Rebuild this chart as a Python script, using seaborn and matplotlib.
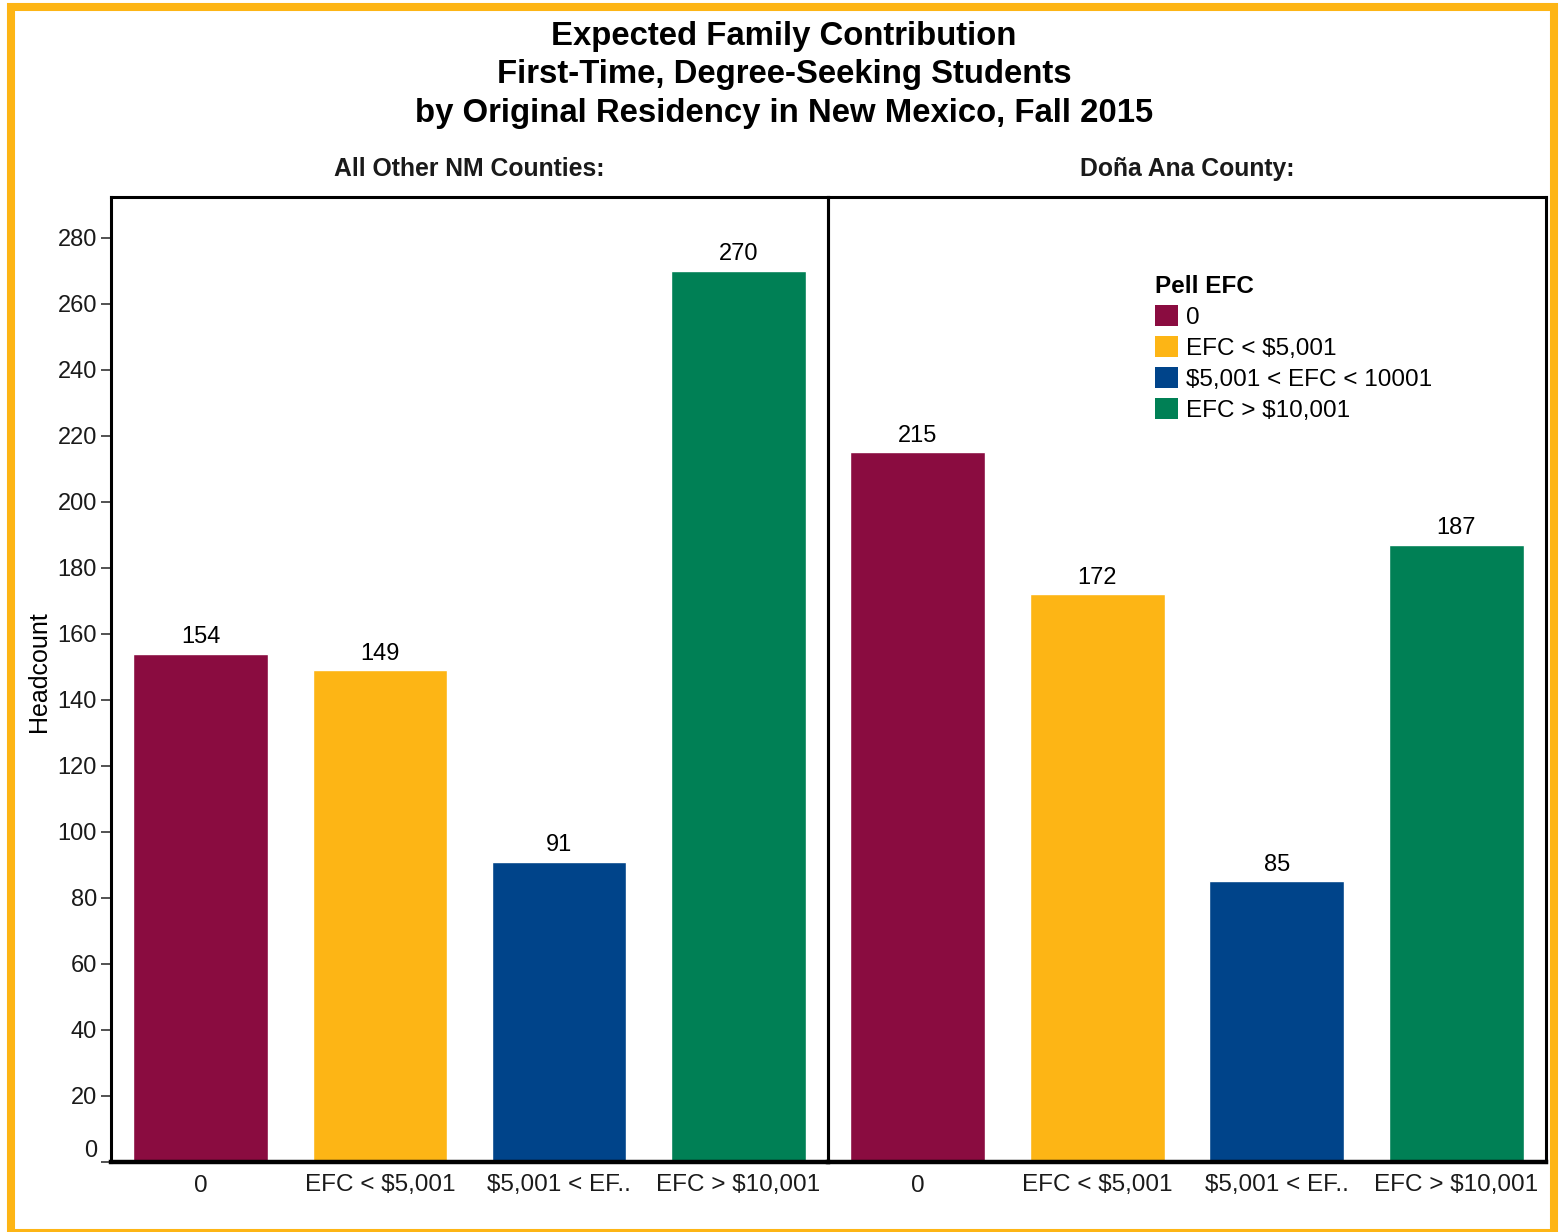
import numpy as np
import pandas as pd
import matplotlib
matplotlib.use('Agg')
import matplotlib.pyplot as plt
from matplotlib.patches import Rectangle, Patch
import seaborn as sns

# Data
categories = ['0', 'EFC < $5,001', '$5,001 < EFC < 10001', 'EFC > $10,001']
tick_labels = ['0', 'EFC < $5,001', '$5,001 < EF..', 'EFC > $10,001']
other_counties = [154, 149, 91, 270]
dona_ana = [215, 172, 85, 187]
panel_titles = ['All Other NM Counties:', 'Doña Ana County:']
colors = ['#8A0C40', '#FDB515', '#00448A', '#008055']

sns.set_theme(style='white')
plt.rcParams['font.family'] = ['Liberation Sans', 'DejaVu Sans']
plt.rcParams['text.color'] = 'black'
plt.rcParams['axes.labelcolor'] = 'black'

fig = plt.figure(figsize=(15.68, 12.32), dpi=100)

# orange frame round the whole picture
fig.patches.append(Rectangle((11 / 1568, -1 / 1232), 1543 / 1568, 1226 / 1232,
                             transform=fig.transFigure, fill=False,
                             edgecolor='#FDB515', linewidth=5.8))

fig.text(0.5, 1 - 75 / 1232, 'Expected Family Contribution\nFirst-Time, Degree-Seeking Students\nby Original Residency in New Mexico, Fall 2015',
         ha='center', va='center', fontsize=23.7, fontweight='bold', linespacing=1.3)

bottom = (1232 - 1162) / 1232
height = (1162 - 197) / 1232
ax1 = fig.add_axes([111 / 1568, bottom, 717 / 1568, height])
ax2 = fig.add_axes([828 / 1568, bottom, 718 / 1568, height])
ax2.patch.set_alpha(0)

for ax, vals, title in zip([ax1, ax2], [other_counties, dona_ana], panel_titles):
    df = pd.DataFrame({'Pell EFC': categories, 'Headcount': vals})
    sns.barplot(data=df, x='Pell EFC', y='Headcount', hue='Pell EFC', order=categories,
                hue_order=categories, palette=colors, width=0.75, dodge=False,
                saturation=1, legend=False, ax=ax)
    for c in ax.containers:
        ax.bar_label(c, fmt='%d', padding=4, fontsize=17, color='black')
    ax.set_xlim(-0.5, 3.5)
    ax.set_ylim(0, 292.4)
    ax.set_xticks(range(len(categories)))
    ax.set_xticklabels(tick_labels, fontsize=17.5, color='#1a1a1a')
    ax.tick_params(axis='x', length=0, pad=9)
    ax.set_xlabel('')
    ax.set_title(title, fontsize=17.8, fontweight='bold', pad=15, color='#1a1a1a')
    for s in ['top', 'left', 'right']:
        ax.spines[s].set_color('black')
        ax.spines[s].set_linewidth(2.2)
    ax.spines['bottom'].set_color('black')
    ax.spines['bottom'].set_linewidth(3.2)

ax1.set_yticks(np.arange(0, 281, 20))
ax1.tick_params(axis='y', left=True, length=7, width=1.2, color='#333333', labelsize=17,
                labelcolor='#1a1a1a', pad=3)
ax1.get_yticklabels()[0].set_va('bottom')
ax1.set_ylabel('Headcount', fontsize=18)
ax1.yaxis.set_label_coords(-0.084, 0.508)
ax2.set_yticks([])
ax2.set_ylabel('')

handles = [Patch(facecolor=c, edgecolor='none') for c in colors]
leg = ax2.legend(handles, categories, title='Pell EFC', loc='upper left',
                 bbox_to_anchor=(0.455, 0.919), frameon=False, fontsize=17.5,
                 title_fontsize=17.5, handlelength=0.95, handleheight=0.95,
                 handletextpad=0.35, labelspacing=0.29, borderaxespad=0, borderpad=0)
leg.get_title().set_fontweight('bold')
leg._legend_box.align = 'left'

fig.savefig('out.png', dpi=100)
